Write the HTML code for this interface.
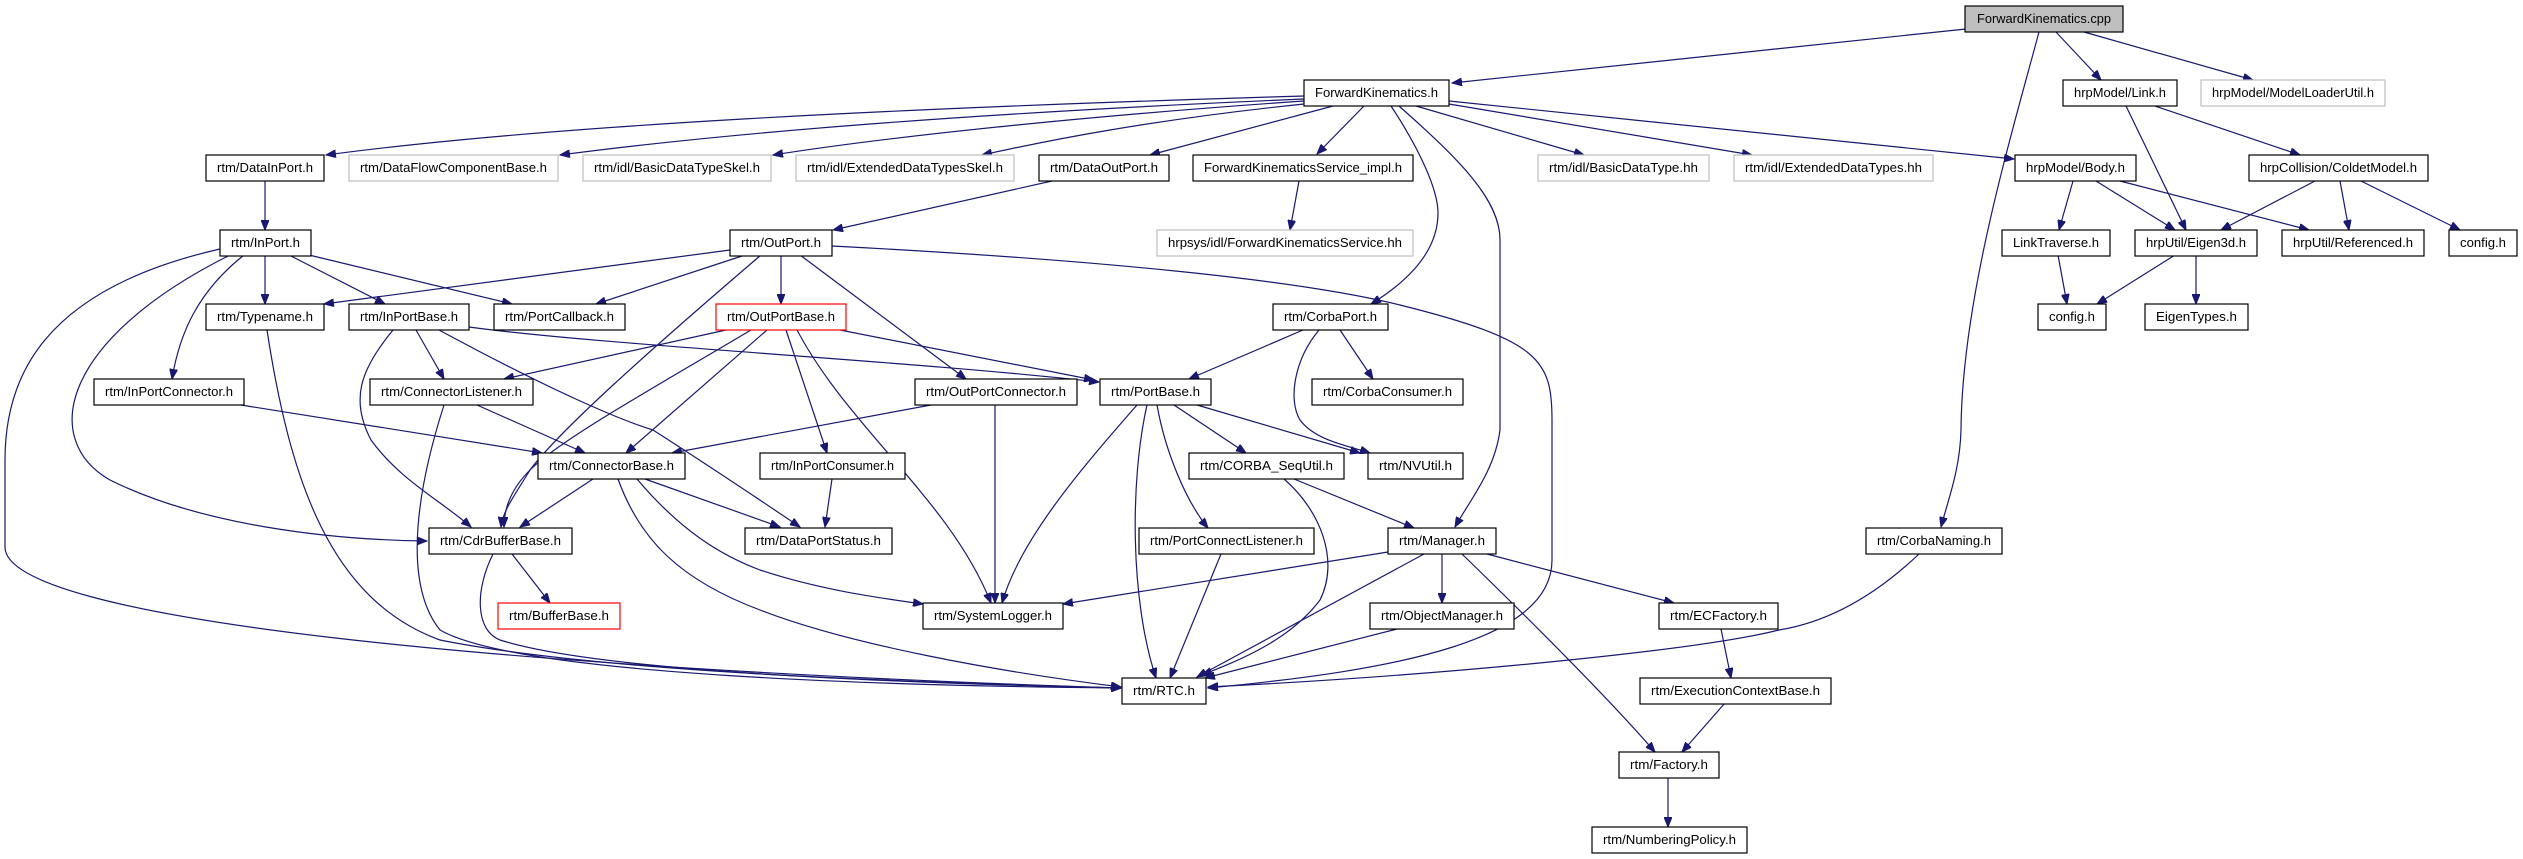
<!DOCTYPE html>
<html><head><meta charset="utf-8"><style>
html,body{margin:0;padding:0;background:#fff;}
svg{display:block;}
text{font-family:"Liberation Sans",sans-serif;font-size:13px;fill:#000;}
.n{fill:#fff;stroke:#000;stroke-width:1.2;}
.g{fill:#fff;stroke:#bfbfbf;stroke-width:1.2;}
.r{fill:#fff;stroke:#ff0000;stroke-width:1.2;}
.e{fill:none;stroke:#191970;stroke-width:1.2;marker-end:url(#a);}
</style></head><body>
<svg width="2523" height="859" viewBox="0 0 2523 859" xmlns="http://www.w3.org/2000/svg">
<defs><marker id="a" markerUnits="userSpaceOnUse" markerWidth="11" markerHeight="8" refX="10" refY="4" orient="auto"><path d="M0,0 L10,4 L0,8 z" fill="#191970" stroke="#191970"/></marker></defs>

<!-- edges -->
<path class="e" d="M1966,29 L1452,83"/>
<path class="e" d="M2056,32 L2101,80"/>
<path class="e" d="M2084,32 L2253,80"/>
<path class="e" d="M2039,32 C2010,140 1962,300 1961,430 C1960,470 1948,500 1941,527"/>

<path class="e" d="M1304,96 C900,108 550,125 326,155"/>
<path class="e" d="M1304,99 C1000,112 750,130 560,155"/>
<path class="e" d="M1304,101 C1100,115 900,135 773,155"/>
<path class="e" d="M1304,104 C1150,120 1050,140 982,155"/>
<path class="e" d="M1333,106 L1150,155"/>
<path class="e" d="M1364,106 L1317,154"/>
<path class="e" d="M1391,106 C1420,150 1438,190 1438,213 C1438,250 1410,280 1371,304"/>
<path class="e" d="M1399,106 C1460,160 1500,200 1500,240 L1500,430 C1495,470 1470,500 1455,527"/>
<path class="e" d="M1416,106 L1584,155"/>
<path class="e" d="M1449,104 L1752,155"/>
<path class="e" d="M1449,101 L2014,159"/>

<path class="e" d="M2126,106 L2186,230"/>
<path class="e" d="M2155,106 L2300,155"/>
<path class="e" d="M2073,181 L2059,230"/>
<path class="e" d="M2096,181 L2175,230"/>
<path class="e" d="M2120,181 L2309,230"/>
<path class="e" d="M2315,181 L2221,230"/>
<path class="e" d="M2340,181 L2349,230"/>
<path class="e" d="M2361,181 L2460,230"/>
<path class="e" d="M2058,255 L2067,304"/>
<path class="e" d="M2175,255 L2097,304"/>
<path class="e" d="M2196,255 L2196,304"/>

<path class="e" d="M1299,181 L1290,230"/>
<path class="e" d="M265,181 L265,230"/>
<path class="e" d="M1052,181 L833,230"/>

<path class="e" d="M265,255 L265,304"/>
<path class="e" d="M289,255 L385,304"/>
<path class="e" d="M309,255 L512,304"/>
<path class="e" d="M244,255 C200,290 180,330 172,379"/>
<path class="e" d="M230,255 C60,340 40,440 110,480 C200,525 330,540 427,541"/>
<path class="e" d="M220,249 C40,290 5,380 5,460 L5,547 C5,620 500,668 1121,688"/>
<path class="e" d="M267,330 C290,480 330,600 440,640 C600,672 900,682 1121,688"/>
<path class="e" d="M393,330 C360,370 350,400 371,440 C400,480 440,500 471,527"/>
<path class="e" d="M444,405 C420,480 400,580 440,630 C520,676 900,686 1121,688"/>
<path class="e" d="M416,330 L444,379"/>
<path class="e" d="M439,330 C550,390 620,420 653,430 C700,460 760,500 800,527"/>
<path class="e" d="M469,327 C600,345 900,360 1099,382"/>
<path class="e" d="M241,405 L542,453"/>
<path class="e" d="M477,405 L585,453"/>

<path class="e" d="M726,330 L504,379"/>
<path class="e" d="M751,330 C650,390 560,440 530,470 C510,490 504,510 504,527"/>
<path class="e" d="M767,330 L626,453"/>
<path class="e" d="M786,330 L827,453"/>
<path class="e" d="M797,330 C850,430 950,500 991,603"/>
<path class="e" d="M840,330 L1094,380"/>

<path class="e" d="M730,250 L324,304"/>
<path class="e" d="M745,255 L596,304"/>
<path class="e" d="M781,255 L781,304"/>
<path class="e" d="M761,255 C650,350 560,430 530,470 C515,495 503,510 501,527"/>
<path class="e" d="M800,255 L966,379"/>
<path class="e" d="M832,246 C1100,260 1300,280 1400,305 C1540,340 1552,360 1552,420 L1552,560 C1552,640 1400,670 1208,688"/>

<path class="e" d="M931,405 L672,453"/>
<path class="e" d="M995,405 L995,603"/>
<path class="e" d="M1137,405 C1080,470 1020,540 1002,603"/>
<path class="e" d="M1147,405 C1130,480 1130,600 1156,678"/>
<path class="e" d="M1157,405 C1165,450 1185,500 1208,528"/>
<path class="e" d="M1174,405 L1246,453"/>
<path class="e" d="M1197,405 L1360,453"/>
<path class="e" d="M1303,330 L1189,379"/>
<path class="e" d="M1340,330 L1373,379"/>
<path class="e" d="M1319,330 C1294,360 1288,400 1300,420 C1315,440 1345,445 1370,453"/>

<path class="e" d="M593,479 L520,527"/>
<path class="e" d="M645,479 L780,527"/>
<path class="e" d="M637,479 C680,530 720,555 760,570 C820,590 880,598 923,604"/>
<path class="e" d="M618,479 C640,540 680,580 760,610 C850,645 1000,672 1121,687"/>
<path class="e" d="M832,479 L825,527"/>
<path class="e" d="M512,554 L550,603"/>
<path class="e" d="M493,554 C475,590 475,630 500,640 C600,672 900,683 1121,688"/>

<path class="e" d="M1294,479 L1414,528"/>
<path class="e" d="M1284,479 C1320,510 1340,560 1320,600 C1290,640 1240,660 1202,675"/>
<path class="e" d="M1221,554 L1170,678"/>
<path class="e" d="M1388,552 L1063,604"/>
<path class="e" d="M1424,554 L1197,677"/>
<path class="e" d="M1442,554 L1442,603"/>
<path class="e" d="M1487,554 L1674,603"/>
<path class="e" d="M1462,554 C1530,620 1610,700 1655,752"/>
<path class="e" d="M1397,629 L1205,678"/>
<path class="e" d="M1919,554 C1860,610 1810,625 1779,630 C1700,650 1450,675 1208,687"/>
<path class="e" d="M1721,629 L1731,678"/>
<path class="e" d="M1725,703 L1682,752"/>
<path class="e" d="M1668,778 L1668,827"/>

<!-- nodes -->
<g>
<rect x="1965" y="6" width="158" height="26" fill="#bfbfbf" stroke="#000" stroke-width="1.2"/><text x="2044" y="23" text-anchor="middle" textLength="134" lengthAdjust="spacingAndGlyphs">ForwardKinematics.cpp</text>

<rect class="n" x="1304" y="80" width="145" height="26"/><text x="1376.5" y="97" text-anchor="middle" textLength="123" lengthAdjust="spacingAndGlyphs">ForwardKinematics.h</text>
<rect class="n" x="2063" y="80" width="114" height="26"/><text x="2120" y="97" text-anchor="middle" textLength="92" lengthAdjust="spacingAndGlyphs">hrpModel/Link.h</text>
<rect class="g" x="2201" y="80" width="184" height="26"/><text x="2293" y="97" text-anchor="middle" textLength="162" lengthAdjust="spacingAndGlyphs">hrpModel/ModelLoaderUtil.h</text>

<rect class="n" x="206" y="155" width="118" height="26"/><text x="265" y="172" text-anchor="middle" textLength="96" lengthAdjust="spacingAndGlyphs">rtm/DataInPort.h</text>
<rect class="g" x="349" y="155" width="209" height="26"/><text x="453.5" y="172" text-anchor="middle" textLength="187" lengthAdjust="spacingAndGlyphs">rtm/DataFlowComponentBase.h</text>
<rect class="g" x="583" y="155" width="188" height="26"/><text x="677" y="172" text-anchor="middle" textLength="166" lengthAdjust="spacingAndGlyphs">rtm/idl/BasicDataTypeSkel.h</text>
<rect class="g" x="796" y="155" width="218" height="26"/><text x="905" y="172" text-anchor="middle" textLength="196" lengthAdjust="spacingAndGlyphs">rtm/idl/ExtendedDataTypesSkel.h</text>
<rect class="n" x="1039" y="155" width="130" height="26"/><text x="1104" y="172" text-anchor="middle" textLength="108" lengthAdjust="spacingAndGlyphs">rtm/DataOutPort.h</text>
<rect class="n" x="1193" y="155" width="220" height="26"/><text x="1303" y="172" text-anchor="middle" textLength="198" lengthAdjust="spacingAndGlyphs">ForwardKinematicsService_impl.h</text>
<rect class="g" x="1538" y="155" width="171" height="26"/><text x="1623.5" y="172" text-anchor="middle" textLength="149" lengthAdjust="spacingAndGlyphs">rtm/idl/BasicDataType.hh</text>
<rect class="g" x="1734" y="155" width="199" height="26"/><text x="1833.5" y="172" text-anchor="middle" textLength="177" lengthAdjust="spacingAndGlyphs">rtm/idl/ExtendedDataTypes.hh</text>
<rect class="n" x="2015" y="155" width="121" height="26"/><text x="2075.5" y="172" text-anchor="middle" textLength="99" lengthAdjust="spacingAndGlyphs">hrpModel/Body.h</text>
<rect class="n" x="2249" y="155" width="179" height="26"/><text x="2338.5" y="172" text-anchor="middle" textLength="157" lengthAdjust="spacingAndGlyphs">hrpCollision/ColdetModel.h</text>

<rect class="n" x="220" y="230" width="91" height="26"/><text x="265.5" y="247" text-anchor="middle" textLength="69" lengthAdjust="spacingAndGlyphs">rtm/InPort.h</text>
<rect class="n" x="730" y="230" width="102" height="26"/><text x="781" y="247" text-anchor="middle" textLength="80" lengthAdjust="spacingAndGlyphs">rtm/OutPort.h</text>
<rect class="g" x="1157" y="230" width="256" height="26"/><text x="1285" y="247" text-anchor="middle" textLength="234" lengthAdjust="spacingAndGlyphs">hrpsys/idl/ForwardKinematicsService.hh</text>
<rect class="n" x="2002" y="230" width="108" height="26"/><text x="2056" y="247" text-anchor="middle" textLength="86" lengthAdjust="spacingAndGlyphs">LinkTraverse.h</text>
<rect class="n" x="2135" y="230" width="122" height="26"/><text x="2196" y="247" text-anchor="middle" textLength="100" lengthAdjust="spacingAndGlyphs">hrpUtil/Eigen3d.h</text>
<rect class="n" x="2282" y="230" width="142" height="26"/><text x="2353" y="247" text-anchor="middle" textLength="120" lengthAdjust="spacingAndGlyphs">hrpUtil/Referenced.h</text>
<rect class="n" x="2449" y="230" width="68" height="26"/><text x="2483" y="247" text-anchor="middle" textLength="46" lengthAdjust="spacingAndGlyphs">config.h</text>

<rect class="n" x="206" y="304" width="118" height="26"/><text x="265" y="321" text-anchor="middle" textLength="96" lengthAdjust="spacingAndGlyphs">rtm/Typename.h</text>
<rect class="n" x="349" y="304" width="120" height="26"/><text x="409" y="321" text-anchor="middle" textLength="98" lengthAdjust="spacingAndGlyphs">rtm/InPortBase.h</text>
<rect class="n" x="494" y="304" width="131" height="26"/><text x="559.5" y="321" text-anchor="middle" textLength="109" lengthAdjust="spacingAndGlyphs">rtm/PortCallback.h</text>
<rect class="r" x="716" y="304" width="130" height="26"/><text x="781" y="321" text-anchor="middle" textLength="108" lengthAdjust="spacingAndGlyphs">rtm/OutPortBase.h</text>
<rect class="n" x="1273" y="304" width="115" height="26"/><text x="1330.5" y="321" text-anchor="middle" textLength="93" lengthAdjust="spacingAndGlyphs">rtm/CorbaPort.h</text>
<rect class="n" x="2038" y="304" width="68" height="26"/><text x="2072" y="321" text-anchor="middle" textLength="46" lengthAdjust="spacingAndGlyphs">config.h</text>
<rect class="n" x="2145" y="304" width="103" height="26"/><text x="2196.5" y="321" text-anchor="middle" textLength="81" lengthAdjust="spacingAndGlyphs">EigenTypes.h</text>

<rect class="n" x="94" y="379" width="150" height="26"/><text x="169" y="396" text-anchor="middle" textLength="128" lengthAdjust="spacingAndGlyphs">rtm/InPortConnector.h</text>
<rect class="n" x="370" y="379" width="163" height="26"/><text x="451.5" y="396" text-anchor="middle" textLength="141" lengthAdjust="spacingAndGlyphs">rtm/ConnectorListener.h</text>
<rect class="n" x="915" y="379" width="162" height="26"/><text x="996" y="396" text-anchor="middle" textLength="140" lengthAdjust="spacingAndGlyphs">rtm/OutPortConnector.h</text>
<rect class="n" x="1100" y="379" width="111" height="26"/><text x="1155.5" y="396" text-anchor="middle" textLength="89" lengthAdjust="spacingAndGlyphs">rtm/PortBase.h</text>
<rect class="n" x="1312" y="379" width="151" height="26"/><text x="1387.5" y="396" text-anchor="middle" textLength="129" lengthAdjust="spacingAndGlyphs">rtm/CorbaConsumer.h</text>

<rect class="n" x="538" y="453" width="147" height="26"/><text x="611.5" y="470" text-anchor="middle" textLength="125" lengthAdjust="spacingAndGlyphs">rtm/ConnectorBase.h</text>
<rect class="n" x="760" y="453" width="145" height="26"/><text x="832.5" y="470" text-anchor="middle" textLength="123" lengthAdjust="spacingAndGlyphs">rtm/InPortConsumer.h</text>
<rect class="n" x="1189" y="453" width="155" height="26"/><text x="1266.5" y="470" text-anchor="middle" textLength="133" lengthAdjust="spacingAndGlyphs">rtm/CORBA_SeqUtil.h</text>
<rect class="n" x="1368" y="453" width="95" height="26"/><text x="1415.5" y="470" text-anchor="middle" textLength="73" lengthAdjust="spacingAndGlyphs">rtm/NVUtil.h</text>

<rect class="n" x="429" y="528" width="143" height="26"/><text x="500.5" y="545" text-anchor="middle" textLength="121" lengthAdjust="spacingAndGlyphs">rtm/CdrBufferBase.h</text>
<rect class="n" x="745" y="528" width="147" height="26"/><text x="818.5" y="545" text-anchor="middle" textLength="125" lengthAdjust="spacingAndGlyphs">rtm/DataPortStatus.h</text>
<rect class="n" x="1139" y="528" width="175" height="26"/><text x="1226.5" y="545" text-anchor="middle" textLength="153" lengthAdjust="spacingAndGlyphs">rtm/PortConnectListener.h</text>
<rect class="n" x="1388" y="528" width="108" height="26"/><text x="1442" y="545" text-anchor="middle" textLength="86" lengthAdjust="spacingAndGlyphs">rtm/Manager.h</text>
<rect class="n" x="1866" y="528" width="136" height="26"/><text x="1934" y="545" text-anchor="middle" textLength="114" lengthAdjust="spacingAndGlyphs">rtm/CorbaNaming.h</text>

<rect class="r" x="498" y="603" width="122" height="26"/><text x="559" y="620" text-anchor="middle" textLength="100" lengthAdjust="spacingAndGlyphs">rtm/BufferBase.h</text>
<rect class="n" x="923" y="603" width="140" height="26"/><text x="993" y="620" text-anchor="middle" textLength="118" lengthAdjust="spacingAndGlyphs">rtm/SystemLogger.h</text>
<rect class="n" x="1370" y="603" width="144" height="26"/><text x="1442" y="620" text-anchor="middle" textLength="122" lengthAdjust="spacingAndGlyphs">rtm/ObjectManager.h</text>
<rect class="n" x="1659" y="603" width="119" height="26"/><text x="1718.5" y="620" text-anchor="middle" textLength="97" lengthAdjust="spacingAndGlyphs">rtm/ECFactory.h</text>

<rect class="n" x="1122" y="678" width="84" height="26"/><text x="1164" y="695" text-anchor="middle" textLength="62" lengthAdjust="spacingAndGlyphs">rtm/RTC.h</text>
<rect class="n" x="1640" y="678" width="191" height="26"/><text x="1735.5" y="695" text-anchor="middle" textLength="169" lengthAdjust="spacingAndGlyphs">rtm/ExecutionContextBase.h</text>

<rect class="n" x="1619" y="752" width="100" height="26"/><text x="1669" y="769" text-anchor="middle" textLength="78" lengthAdjust="spacingAndGlyphs">rtm/Factory.h</text>
<rect class="n" x="1592" y="827" width="155" height="26"/><text x="1669.5" y="844" text-anchor="middle" textLength="133" lengthAdjust="spacingAndGlyphs">rtm/NumberingPolicy.h</text>
</g>
</svg>
</body></html>
